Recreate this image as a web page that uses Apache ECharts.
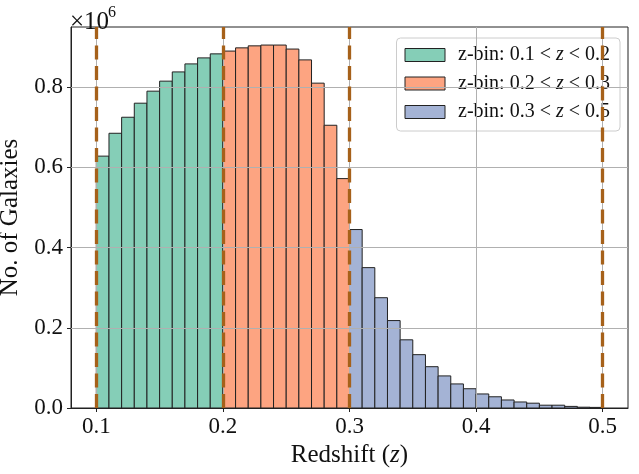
<!DOCTYPE html>
<html>
<head>
<meta charset="utf-8">
<script src="https://cdn.jsdelivr.net/npm/echarts@6/dist/echarts.min.js"></script>
<style>html,body{margin:0;padding:0;background:#fff}#c{width:639px;height:474px}</style>
</head>
<body>
<div id="c"></div>
<script>
// Bin left edges (width 0.01)
const binLeft = [0.10,0.11,0.12,0.13,0.14,0.15,0.16,0.17,0.18,0.19,
                 0.20,0.21,0.22,0.23,0.24,0.25,0.26,0.27,0.28,0.29,
                 0.30,0.31,0.32,0.33,0.34,0.35,0.36,0.37,0.38,0.39,
                 0.40,0.41,0.42,0.43,0.44,0.45,0.46,0.47,0.48,0.49];
const binWidth = 0.01;
// Galaxy counts (x 10^6)
const countsLow  = [0.628,0.685,0.725,0.760,0.790,0.815,0.838,0.858,0.873,0.883];
const countsMid  = [0.890,0.898,0.903,0.905,0.905,0.895,0.868,0.810,0.705,0.572];
const countsHigh = [0.445,0.350,0.275,0.218,0.170,0.133,0.103,0.080,0.060,0.048,
                    0.035,0.028,0.020,0.015,0.012,0.007,0.007,0.004,0.002,0.0015];
const seriesNames = ['z-bin: 0.1 < z < 0.2','z-bin: 0.2 < z < 0.3','z-bin: 0.3 < z < 0.5'];
const zBinEdges = [0.1,0.2,0.3,0.5];
const xTicks = [0.1,0.2,0.3,0.4,0.5];
const yTicks = [0,0.2,0.4,0.6,0.8];

const colors = ['#85ceb7','#fda481','#a4b3d5'];
const FONT = 'Liberation Serif';

function binData(counts, offset){
  return counts.map((c,i)=>[binLeft[offset+i], binLeft[offset+i]+binWidth, c]);
}
function makeHist(name, data, color){
  return {
    name, type:'custom', z:2, data,
    itemStyle:{color, borderColor:'#222', borderWidth:1},
    encode:{x:[0,1], y:2},
    renderItem(params, api){
      const p0 = api.coord([api.value(0), api.value(2)]);
      const p1 = api.coord([api.value(1), 0]);
      return {type:'rect', shape:{x:p0[0], y:p0[1], width:p1[0]-p0[0], height:p1[1]-p0[1]},
              style:{fill:color, stroke:'#222', lineWidth:1}};
    }
  };
}

const chart = echarts.init(document.getElementById('c'), null, {renderer:'canvas'});
const yMax = 0.95;
chart.setOption({
  animation:false,
  textStyle:{fontFamily:FONT},
  grid:{left:71, right:11, top:27, bottom:66, outerBoundsMode:'none', containLabel:false,
        show:true, borderColor:'#222', borderWidth:1, backgroundColor:'transparent'},
  xAxis:{
    type:'value', min:0.08, max:0.52,
    name:'Redshift ({i|z})', nameLocation:'middle', nameGap:28,
    nameTextStyle:{fontSize:25, color:'#111', fontFamily:FONT, rich:{i:{fontStyle:'italic', fontSize:25, fontFamily:FONT, color:'#111'}}},
    axisLine:{show:true, onZero:false, lineStyle:{color:'#222', width:1}},
    axisTick:{show:true, length:4, lineStyle:{color:'#222'}, customValues:xTicks},
    axisLabel:{fontSize:23, color:'#111', margin:7, fontFamily:FONT, customValues:xTicks, formatter:v=>v.toFixed(1)},
    splitLine:{show:false}
  },
  yAxis:{
    type:'value', min:0, max:yMax,
    name:'No. of Galaxies', nameLocation:'middle', nameGap:40,
    nameTextStyle:{fontSize:25, color:'#111', fontFamily:FONT},
    axisLine:{show:true, lineStyle:{color:'#222', width:1}},
    axisTick:{show:true, length:4, lineStyle:{color:'#222'}, customValues:yTicks},
    axisLabel:{fontSize:23, color:'#111', margin:8, fontFamily:FONT, customValues:yTicks, formatter:v=>v.toFixed(1)},
    splitLine:{show:false}
  },
  legend:{
    right:19, top:38, orient:'vertical', icon:'rect', itemWidth:40, itemHeight:13, itemGap:8.5, z:4,
    backgroundColor:'rgba(255,255,255,0.8)', borderColor:'#cccccc', borderWidth:1, borderRadius:4,
    padding:[7,10,9,8],
    textStyle:{fontSize:20, color:'#111', fontFamily:FONT, lineHeight:20, padding:[0,0,0,8],
      rich:{i:{fontStyle:'italic', fontSize:20, fontFamily:FONT, color:'#111'}}},
    formatter:n=>n.replace(/< z </,'< {i|z} <'),
    data:seriesNames.map((n,k)=>({name:n, itemStyle:{color:colors[k], borderColor:'#222', borderWidth:1}}))
  },
  graphic:[
    {type:'text', left:70, top:10, style:{text:'×10', fontSize:25, fontFamily:FONT, fill:'#111'}},
    {type:'text', left:108, top:5, style:{text:'6', fontSize:16, fontFamily:FONT, fill:'#111'}}
  ],
  series:[
    {type:'line', name:'grid', data:[], z:1, silent:true,
     markLine:{silent:true, symbol:'none', label:{show:false},
       lineStyle:{color:'#b0b0b0', width:1, type:'solid'},
       data:[
         ...xTicks.map(x=>[{coord:[x,0]},{coord:[x,yMax]}]),
         ...yTicks.slice(1).map(y=>[{coord:[0.08,y]},{coord:[0.52,y]}])
       ]}},
    makeHist(seriesNames[0], binData(countsLow,0), colors[0]),
    makeHist(seriesNames[1], binData(countsMid,10), colors[1]),
    makeHist(seriesNames[2], binData(countsHigh,20), colors[2]),
    {type:'line', name:'edges', data:[], z:3, silent:true,
     markLine:{silent:true, symbol:'none', label:{show:false},
       lineStyle:{color:'#a6611a', width:3.3, type:[14,6.5]},
       data: zBinEdges.map(x=>[{coord:[x,0]},{coord:[x,yMax]}])}}
  ]
});
</script>
</body>
</html>
